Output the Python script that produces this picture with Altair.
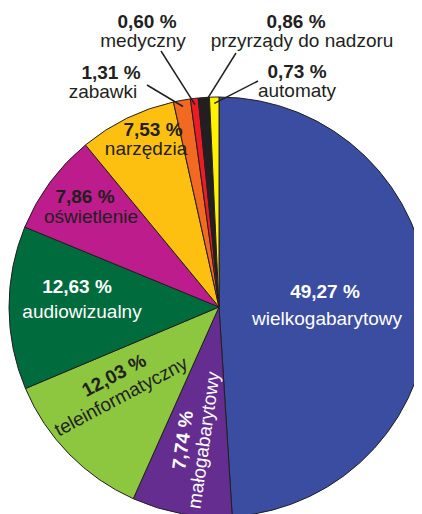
import math
import altair as alt
import pandas as pd

# ---------------- data ----------------
categories = ["wielkogabarytowy", "małogabarytowy", "teleinformatyczny", "audiowizualny",
              "oświetlenie", "narzędzia", "zabawki", "medyczny",
              "przyrządy do nadzoru", "automaty"]
shares = [49.27, 7.74, 12.03, 12.63, 7.86, 7.53, 1.31, 0.60, 0.86, 0.73]
share_labels = ["49,27 %", "7,74 %", "12,03 %", "12,63 %", "7,86 %",
                "7,53 %", "1,31 %", "0,60 %", "0,86 %", "0,73 %"]
colors = ["#3A4DA0", "#662D91", "#8DC63F", "#006B3C", "#BD1C8C",
          "#FDC010", "#F26922", "#ED1C24", "#231F20", "#FFF200"]

# ---------------- layout (not data) ----------------
R = 210                 # pie radius in px
CX, CY = 211, 299       # pie centre inside the svg
DARK = "#231F20"
WHITE = "#FFFFFF"
# per label: (bold dx, bold dy, name dx, name dy, rotation, text colour) relative to centre
label_layout = {
    "wielkogabarytowy":     (106, -9, 108, 18, 0, WHITE),
    "małogabarytowy":       (-30, 134, -9, 134, 278, WHITE),
    "teleinformatyczny":    (-102, 74, -95, 95, 332, DARK),
    "audiowizualny":        (-142, -14, -137, 11, 0, WHITE),
    "oświetlenie":          (-134, -104, -128, -84, 0, DARK),
    "narzędzia":            (-66, -171, -73, -152, 0, DARK),
    "zabawki":              (-108, -228, -116, -209, 0, DARK),
    "medyczny":             (-72, -279, -76, -260, 0, DARK),
    "przyrządy do nadzoru": (77, -279, 83, -260, 0, DARK),
    "automaty":             (78, -229, 78, -210, 0, DARK),
}
# outer end of leader lines (relative to centre) for the small slices
leader_layout = {
    "zabawki": (-72, -222),
    "medyczny": (-58, -256),
    "przyrządy do nadzoru": (17, -254),
    "automaty": (39, -226),
}

# ---------------- tables ----------------
pie_df = pd.DataFrame({"category": categories, "share": shares,
                       "idx": list(range(len(categories)))})

lab_rows = []
for cat, pct in zip(categories, share_labels):
    bx, by, nx, ny, rot, col = label_layout[cat]
    lab_rows.append({"category": cat, "pct": pct,
                     "bx": CX + bx, "by": CY + by,
                     "nx": CX + nx, "ny": CY + ny,
                     "rot": rot, "tcol": col})
lab_df = pd.DataFrame(lab_rows)

total = sum(shares)
cum = 0.0
lead_rows = []
for cat, v in zip(categories, shares):
    mid = (cum + v / 2) / total * 2 * math.pi
    cum += v
    if cat in leader_layout:
        ox, oy = leader_layout[cat]
        lead_rows.append({"category": cat,
                          "x1": CX + 0.97 * R * math.sin(mid),
                          "y1": CY - 0.97 * R * math.cos(mid),
                          "x2": CX + ox, "y2": CY + oy})
lead_df = pd.DataFrame(lead_rows)

# ---------------- chart ----------------
pie = alt.Chart(pie_df).mark_arc(radius=R, stroke=DARK, strokeWidth=1).encode(
    theta=alt.Theta("share:Q", stack=True),
    order=alt.Order("idx:Q"),
    color=alt.Color("category:N", scale=alt.Scale(domain=categories, range=colors),
                    legend=None),
    x=alt.value(CX),
    y=alt.value(CY),
)

leaders = alt.Chart(lead_df).mark_rule(color=DARK, strokeWidth=1.5).encode(
    x=alt.X("x1:Q", scale=None, axis=None),
    y=alt.Y("y1:Q", scale=None, axis=None),
    x2="x2:Q",
    y2="y2:Q",
)

bold_txt = alt.Chart(lab_df).mark_text(
    font="Liberation Sans", fontSize=19, fontWeight="bold",
    align="center", baseline="alphabetic").encode(
    x=alt.X("bx:Q", scale=None, axis=None),
    y=alt.Y("by:Q", scale=None, axis=None),
    text="pct:N",
    angle=alt.Angle("rot:Q", scale=None),
    color=alt.Color("tcol:N", scale=None),
)

name_txt = alt.Chart(lab_df).mark_text(
    font="Liberation Sans", fontSize=19,
    align="center", baseline="alphabetic").encode(
    x=alt.X("nx:Q", scale=None, axis=None),
    y=alt.Y("ny:Q", scale=None, axis=None),
    text="category:N",
    angle=alt.Angle("rot:Q", scale=None),
    color=alt.Color("tcol:N", scale=None),
)

chart = alt.layer(pie, leaders, bold_txt, name_txt).properties(
    width=406, height=506, autosize="none", padding=0,
    background="#FFFFFF",
).configure_view(stroke=None)

chart.save("out.html", embed_options={"renderer": "svg", "actions": False})
